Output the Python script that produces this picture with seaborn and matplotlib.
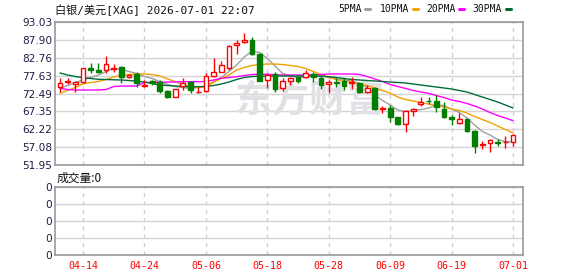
import numpy as np
import pandas as pd
import matplotlib
matplotlib.use("Agg")
import matplotlib.pyplot as plt
import seaborn as sns

# ---------------- data ----------------
start_date = "2026-04-09"
end_date = "2026-07-01"

opens = [74.44, 75.70, 75.13, 75.90, 79.90, 79.24, 79.24, 79.53, 80.00, 77.14,
         78.00, 74.70, 76.17, 75.88, 73.20, 71.57, 74.64, 75.70, 72.80, 73.20,
         77.60, 78.75, 79.73, 86.42, 87.20, 87.86, 83.75, 76.30, 78.00, 74.00,
         76.20, 77.10, 77.14, 78.10, 76.90, 75.20, 75.90, 76.00, 75.60, 75.40,
         73.00, 74.10, 68.00, 68.20, 65.60, 63.80, 67.60, 69.40, 70.45, 70.40,
         68.00, 65.80, 63.90, 65.20, 61.80, 57.70, 58.40, 58.65, 58.50, 58.70]
highs = [76.85, 76.85, 76.17, 79.80, 81.16, 81.16, 83.26, 80.96, 80.39, 78.00,
         78.58, 76.30, 76.40, 76.37, 73.50, 73.80, 77.03, 76.08, 74.40, 78.30,
         82.60, 81.83, 86.42, 87.90, 89.90, 88.80, 84.00, 78.30, 78.60, 76.80,
         77.10, 77.30, 79.20, 78.75, 77.50, 76.40, 76.85, 76.85, 77.30, 75.90,
         74.90, 74.50, 69.00, 69.30, 65.80, 67.70, 68.30, 71.50, 71.40, 72.00,
         70.00, 66.30, 66.80, 65.50, 62.10, 58.90, 59.30, 59.30, 60.30, 60.90]
lows = [73.00, 75.22, 73.00, 75.60, 78.46, 78.29, 78.29, 78.75, 75.59, 76.90,
        74.44, 74.30, 74.90, 72.55, 71.10, 71.50, 73.49, 72.55, 72.70, 73.00,
        77.32, 78.58, 79.24, 83.80, 86.91, 83.55, 76.00, 74.00, 73.00, 73.20,
        75.00, 75.50, 76.90, 75.90, 73.70, 72.60, 74.30, 73.50, 73.70, 72.60,
        72.70, 67.80, 66.80, 64.20, 63.40, 61.50, 66.00, 69.00, 69.50, 67.30,
        65.40, 63.40, 63.80, 61.50, 55.50, 56.50, 55.80, 57.40, 56.80, 57.30]
closes = [75.42, 76.17, 75.70, 79.70, 79.24, 78.67, 80.96, 79.90, 77.14, 77.80,
          75.42, 74.90, 75.60, 73.21, 71.60, 73.70, 75.42, 73.49, 73.00, 77.50,
          78.75, 80.68, 86.22, 86.91, 87.86, 83.75, 76.20, 77.80, 73.70, 76.00,
          76.85, 76.20, 78.40, 77.30, 74.90, 75.90, 75.40, 74.70, 75.90, 73.00,
          74.00, 67.90, 68.40, 65.70, 63.60, 67.40, 68.00, 70.10, 70.35, 68.50,
          65.80, 65.10, 65.30, 61.80, 57.40, 58.00, 59.10, 58.40, 58.60, 60.50]

ma5 = [73.98, 74.79, 75.65, 76.37, 77.09, 77.80, 78.81, 79.67, 79.38, 78.81,
       78.24, 77.37, 76.80, 75.94, 75.08, 74.50, 74.21, 73.93, 74.21, 74.64,
       75.94, 77.09, 78.81, 80.68, 82.98, 84.70, 84.27, 82.54, 80.39, 78.24,
       77.52, 77.09, 77.23, 77.95, 77.80, 77.09, 76.66, 76.37, 76.17, 75.36,
       74.21, 72.06, 70.48, 69.19, 67.75, 67.32, 67.61, 67.89, 68.32, 69.19,
       69.04, 68.04, 67.03, 65.45, 63.44, 61.57, 60.57, 59.28, 58.64, 58.64]
ma10 = [72.55, 73.35, 74.21, 75.22, 75.65, 75.94, 76.51, 77.23, 77.80, 77.95,
        78.09, 78.09, 77.95, 77.52, 76.66, 75.94, 75.08, 74.50, 74.21, 74.50,
        75.65, 76.80, 77.80, 79.24, 79.96, 80.53, 80.82, 80.96, 80.96, 80.82,
        80.53, 80.25, 79.67, 78.81, 77.95, 77.09, 76.51, 76.08, 75.79, 75.22,
        74.79, 74.07, 73.35, 72.63, 71.48, 70.77, 70.34, 69.90, 69.47, 69.04,
        68.61, 68.04, 67.61, 66.89, 65.88, 65.02, 64.16, 63.15, 62.15, 61.14]
ma20 = [73.98, 73.64, 73.49, 73.49, 73.49, 73.49, 73.64, 74.50, 74.64, 74.64,
        74.64, 75.65, 75.71, 75.71, 75.79, 75.79, 75.88, 75.88, 75.88, 75.94,
        76.37, 76.86, 77.09, 77.32, 77.66, 77.95, 78.01, 78.01, 77.89, 77.80,
        77.80, 77.80, 77.80, 77.80, 77.95, 78.09, 78.09, 78.09, 78.09, 77.95,
        77.37, 76.66, 75.94, 75.08, 74.50, 73.93, 73.35, 72.92, 72.55, 71.91,
        71.34, 70.62, 70.19, 69.62, 68.90, 68.04, 67.03, 66.17, 65.45, 64.68]
ma30 = [78.38, 77.80, 77.37, 77.03, 76.80, 76.57, 76.51, 76.43, 76.37, 76.22,
        76.02, 75.79, 75.36, 74.93, 74.79, 74.64, 74.50, 74.44, 74.44, 74.50,
        74.79, 75.22, 75.79, 76.51, 77.09, 77.37, 77.46, 77.52, 77.52, 77.52,
        77.52, 77.52, 77.52, 77.52, 77.46, 77.32, 77.09, 76.80, 76.51, 76.37,
        76.22, 76.08, 75.94, 75.79, 75.65, 75.51, 75.22, 74.93, 74.64, 74.36,
        74.07, 73.78, 73.35, 72.92, 72.20, 71.48, 70.77, 70.05, 69.19, 68.33]

price_ticks = [51.95, 57.08, 62.22, 67.35, 72.49, 77.63, 82.76, 87.90, 93.03]
date_tick_labels = ["04-14", "04-24", "05-06", "05-18", "05-28", "06-09", "06-19", "07-01"]
ma_names = ["5PMA", "10PMA", "20PMA", "30PMA"]
ma_colors = ["#a0a0a0", "#f5a000", "#ff00ff", "#006c38"]
title_text = "白银/美元[XAG] 2026-07-01 22:07"
volume_text = "成交量:0"
volume_tick_labels = ["0", "0", "0", "0", "0"]

# ---------------- style ----------------
sns.set_theme(style="white")
plt.rcParams["font.family"] = ["DejaVu Sans", "Noto Sans CJK SC"]

W, H = 578, 276
fig = plt.figure(figsize=(W / 100, H / 100), dpi=100)
fig.patch.set_facecolor("white")

def fx(px):
    return px / W

def fy(py):
    return 1 - py / H

ax = fig.add_axes([fx(55), fy(165), fx(468), 143 / H])
axv = fig.add_axes([fx(55), fy(255), fx(468), 68 / H])

dates = pd.bdate_range(start_date, end_date)
labels_all = dates.strftime("%m-%d")
idx = np.arange(len(dates))
tick_idx = [int(np.where(labels_all == t)[0][0]) for t in date_tick_labels]

o = np.array(opens); h = np.array(highs); l = np.array(lows); c = np.array(closes)
up = c >= o
RED = "#ff0000"
GREEN = "#007f00"
edge = np.where(up, RED, GREEN)
face = np.where(up, "white", GREEN)

# MA lines via seaborn
ma_df = pd.DataFrame({"idx": np.tile(idx, 4),
                      "value": np.concatenate([ma5, ma10, ma20, ma30]),
                      "ma": np.repeat(ma_names, len(idx))})
sns.lineplot(data=ma_df, x="idx", y="value", hue="ma", palette=dict(zip(ma_names, ma_colors)),
             legend=False, linewidth=1.0, ax=ax, zorder=2)

# candles
ax.vlines(idx, l, h, colors=edge, linewidth=1.0, zorder=3)
body_h = np.maximum(np.abs(c - o), 0.12)
ax.bar(idx, body_h, bottom=np.minimum(o, c), width=0.62, color=face,
       edgecolor=edge, linewidth=1.0, zorder=4)

# watermark
ax.text(0.545, 0.45, "东方财富", transform=ax.transAxes, ha="center", va="center",
        fontsize=27, fontweight="bold", style="italic", color="#e0e0e5",
        family=["Noto Sans CJK SC"], zorder=1)

xlim = (-0.65, 60.3)
for a in (ax, axv):
    a.set_xlim(*xlim)
    a.set_xticks(tick_idx)
    a.grid(axis="x", color="#cfcfcf", linestyle=(0, (3, 3)), linewidth=1.0)
    a.grid(axis="y", color="#d4d4d4", linestyle="-", linewidth=1.0)
    a.set_axisbelow(True)
    for s in a.spines.values():
        s.set_color("#999999")
        s.set_linewidth(1.2)
    a.tick_params(length=0)
    a.set_xlabel("")
    a.set_ylabel("")

ax.set_ylim(price_ticks[0], price_ticks[-1])
ax.set_yticks(price_ticks)
ax.set_yticklabels([f"{v:.2f}" for v in price_ticks], fontsize=7.6, color="#1c1c48")
ax.tick_params(axis="y", pad=2)
ax.set_xticklabels([])

axv.set_ylim(0, 4)
axv.set_yticks(range(5))
axv.set_yticklabels(volume_tick_labels, fontsize=7.6, color="#1c1c48")
axv.tick_params(axis="y", pad=2)
axv.set_xticklabels(date_tick_labels, fontsize=7.2, color=RED, family=["DejaVu Sans Mono"])
axv.tick_params(axis="x", pad=4)

# texts
fig.text(fx(55), fy(10), title_text, fontsize=8, va="center", ha="left", color="#111111",
         family=["DejaVu Sans Mono", "Noto Sans CJK SC"])
fig.text(fx(57), fy(178), volume_text, fontsize=8.5, va="center", ha="left", color="#111111",
         family=["Noto Sans CJK SC", "DejaVu Sans"])

leg_x = [338, 380, 426, 472]
dash_x = [365, 413, 459, 506]
for name, col, lx, dx in zip(ma_names, ma_colors, leg_x, dash_x):
    fig.text(fx(lx), fy(9), name, fontsize=7, va="center", ha="left", color="#111111",
             family=["DejaVu Sans Mono"])
    fig.add_artist(plt.Line2D([fx(dx), fx(dx + 5)], [fy(9), fy(9)], color=col, linewidth=2.2,
                              transform=fig.transFigure))

fig.savefig("out.png", dpi=100)
